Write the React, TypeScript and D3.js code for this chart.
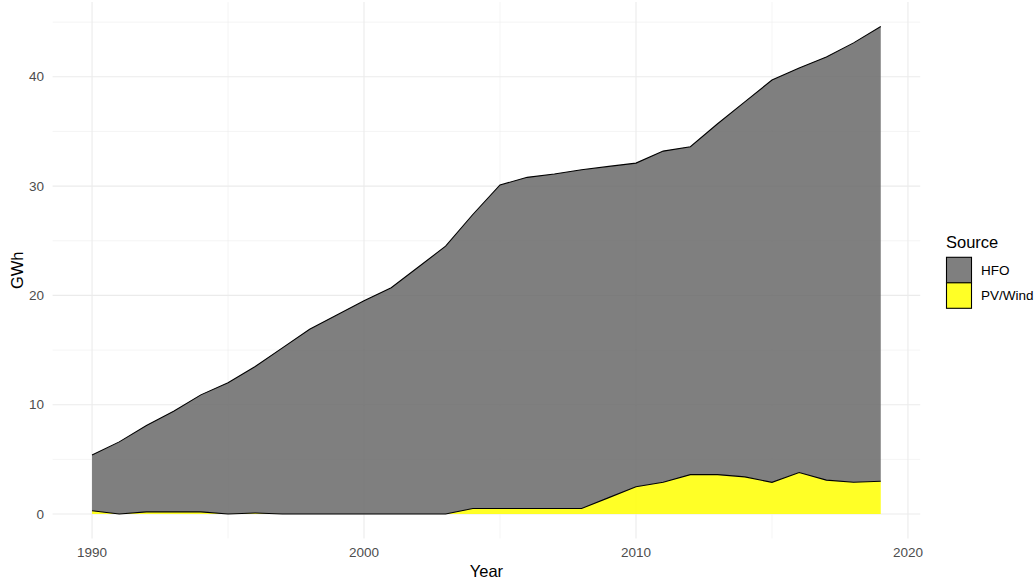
import React, { useEffect, useRef } from "react";
import * as d3 from "d3";

const years = [1990, 1991, 1992, 1993, 1994, 1995, 1996, 1997, 1998, 1999, 2000, 2001, 2002, 2003, 2004,
  2005, 2006, 2007, 2008, 2009, 2010, 2011, 2012, 2013, 2014, 2015, 2016, 2017, 2018, 2019];
const hfo = [5.1, 6.6, 7.9, 9.2, 10.7, 12.0, 13.4, 15.2, 16.9, 18.2, 19.5, 20.7, 22.6, 24.5, 26.9,
  29.6, 30.3, 30.6, 31.0, 30.3, 29.6, 30.3, 30.0, 32.1, 34.3, 36.8, 37.0, 38.7, 40.2, 41.6];
const pvWind = [0.3, 0.0, 0.2, 0.2, 0.2, 0.0, 0.1, 0.0, 0.0, 0.0, 0.0, 0.0, 0.0, 0.0, 0.5,
  0.5, 0.5, 0.5, 0.5, 1.5, 2.5, 2.9, 3.6, 3.6, 3.4, 2.9, 3.8, 3.1, 2.9, 3.0];
const sources = ["HFO", "PV/Wind"];
const fills: Record<string, string> = { "HFO": "#696969", "PV/Wind": "#ffff00" };
const xTicks = [1990, 2000, 2010, 2020];
const xMinor = [1995, 2005, 2015];
const yTicks = [0, 10, 20, 30, 40];
const yMinor = [5, 15, 25, 35, 45];

export default function App() {
  const svgRef = useRef<SVGSVGElement>(null);

  useEffect(() => {
    const W = 1036, H = 582;
    const svg = d3.select(svgRef.current);
    svg.selectAll("*").remove();

    const font = "Liberation Sans, Arial, sans-serif";
    const left = 52.6, right = 920.2, top = 2.1, bottom = 538.4;

    const rows = years.map((yr, i) => ({ year: yr, "HFO": hfo[i], "PV/Wind": pvWind[i] }));
    // PV/Wind at the bottom, HFO stacked on top
    const stack = d3.stack<any>().keys(["PV/Wind", "HFO"]);
    const series = stack(rows);
    const maxY = d3.max(series[series.length - 1], d => d[1]) as number;

    const xExp = (years[years.length - 1] - years[0]) * 0.05;
    const x = d3.scaleLinear()
      .domain([years[0] - xExp, years[years.length - 1] + xExp])
      .range([left, right]);
    const y = d3.scaleLinear()
      .domain([-maxY * 0.05, maxY * 1.05])
      .range([bottom, top]);

    const g = svg.append("g");

    // grid
    g.selectAll(".ymin").data(yMinor).enter().append("line")
      .attr("x1", left).attr("x2", right)
      .attr("y1", d => y(d)).attr("y2", d => y(d))
      .attr("stroke", "#ebebeb").attr("stroke-width", 0.55);
    g.selectAll(".xmin").data(xMinor).enter().append("line")
      .attr("y1", top).attr("y2", bottom)
      .attr("x1", d => x(d)).attr("x2", d => x(d))
      .attr("stroke", "#ebebeb").attr("stroke-width", 0.55);
    g.selectAll(".ymaj").data(yTicks).enter().append("line")
      .attr("x1", left).attr("x2", right)
      .attr("y1", d => y(d)).attr("y2", d => y(d))
      .attr("stroke", "#ebebeb").attr("stroke-width", 1.1);
    g.selectAll(".xmaj").data(xTicks).enter().append("line")
      .attr("y1", top).attr("y2", bottom)
      .attr("x1", d => x(d)).attr("x2", d => x(d))
      .attr("stroke", "#ebebeb").attr("stroke-width", 1.1);

    const area = d3.area<any>()
      .x(d => x(d.data.year))
      .y0(d => y(d[0]))
      .y1(d => y(d[1]));
    const upper = d3.line<any>()
      .x(d => x(d.data.year))
      .y(d => y(d[1]));

    series.forEach(s => {
      g.append("path").attr("d", area(s) as string)
        .attr("fill", fills[s.key]).attr("fill-opacity", 0.85);
    });
    series.forEach(s => {
      g.append("path").attr("d", upper(s) as string)
        .attr("fill", "none").attr("stroke", "#000").attr("stroke-width", 1.1);
    });

    // axis labels
    g.selectAll(".yl").data(yTicks).enter().append("text")
      .attr("x", 44).attr("y", d => y(d)).attr("dy", "0.35em")
      .attr("text-anchor", "end").attr("font-family", font).attr("font-size", 13.5)
      .attr("fill", "#4d4d4d").text(d => d);
    g.selectAll(".xl").data(xTicks).enter().append("text")
      .attr("x", d => x(d)).attr("y", 557)
      .attr("text-anchor", "middle").attr("font-family", font).attr("font-size", 13.5)
      .attr("fill", "#4d4d4d").text(d => d);

    g.append("text").attr("x", (left + right) / 2).attr("y", 577)
      .attr("text-anchor", "middle").attr("font-family", font).attr("font-size", 16.5)
      .attr("fill", "#000").text("Year");
    g.append("text")
      .attr("transform", `translate(23,${(top + bottom) / 2}) rotate(-90)`)
      .attr("text-anchor", "middle").attr("font-family", font).attr("font-size", 16.5)
      .attr("fill", "#000").text("GWh");

    // legend
    const lg = g.append("g").attr("transform", "translate(946,0)");
    lg.append("text").attr("x", 0).attr("y", 248).attr("font-family", font)
      .attr("font-size", 16.5).attr("fill", "#000").text("Source");
    const keyH = 25.5;
    sources.forEach((s, i) => {
      const ky = 257.3 + i * keyH;
      lg.append("rect").attr("x", 0.5).attr("y", ky).attr("width", 25).attr("height", keyH)
        .attr("fill", "#fff");
      lg.append("rect").attr("x", 0.5).attr("y", ky).attr("width", 25).attr("height", keyH)
        .attr("fill", fills[s]).attr("fill-opacity", 0.85)
        .attr("stroke", "#000").attr("stroke-width", 1.1);
      lg.append("text").attr("x", 35).attr("y", ky + keyH / 2).attr("dy", "0.35em")
        .attr("font-family", font).attr("font-size", 13.5).attr("fill", "#000").text(s);
    });

    svg.attr("width", W).attr("height", H);
  }, []);

  return (
    <>
      <style>{`body{margin:0}`}</style>
      <svg ref={svgRef} width={1036} height={582} style={{ display: "block", background: "#fff" }} />
    </>
  );
}
